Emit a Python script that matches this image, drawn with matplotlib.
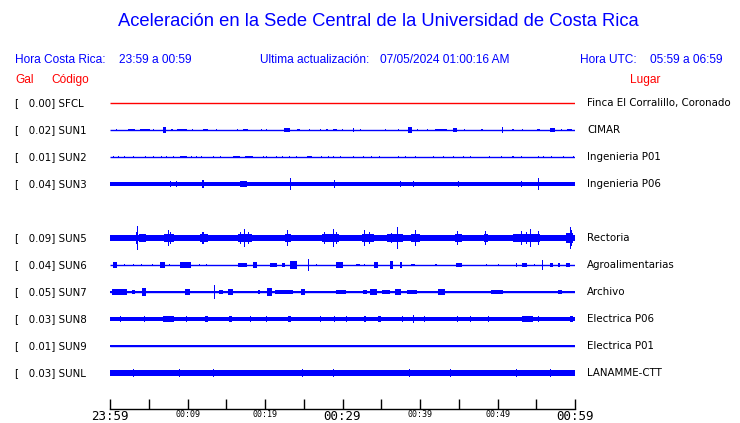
import matplotlib.pyplot as plt
from matplotlib import transforms

# stations, top to bottom (SUN4 has no trace, its slot stays empty)
codes = ['SFCL', 'SUN1', 'SUN2', 'SUN3', 'SUN5', 'SUN6', 'SUN7', 'SUN8', 'SUN9', 'SUNL']
places = ['Finca El Corralillo, Coronado', 'CIMAR', 'Ingenieria P01', 'Ingenieria P06',
          'Rectoria', 'Agroalimentarias', 'Archivo', 'Electrica P06', 'Electrica P01',
          'LANAMME-CTT']
peaks = [0.00, 0.02, 0.01, 0.04, 0.09, 0.04, 0.05, 0.03, 0.01, 0.03]
# background noise half-amplitude (Gal)
base_amp = [0.0, 0.003, 0.003, 0.013, 0.019, 0.003, 0.005, 0.014, 0.004, 0.019]

# time axis: minutes after 23:59
tick_min = [0, 5, 10, 15, 20, 25, 30, 35, 40, 45, 50, 55, 60]
tick_txt = ['23:59', '', '00:09', '', '00:19', '', '00:29', '', '00:39', '', '00:49', '', '00:59']

# bursts: (start min, end min, half amplitude Gal)
# start == end means a single spike
sun1_ev = [(0.9, 0.9, 0.011), (2.3, 3.2, 0.011), (3.9, 5.2, 0.011), (5.6, 5.6, 0.009),
           (6.9, 7.2, 0.020), (8.0, 8.0, 0.009), (8.6, 9.9, 0.011), (10.7, 10.7, 0.011),
           (12.0, 12.7, 0.011), (13.8, 13.8, 0.009), (16.4, 16.5, 0.011), (17.2, 17.8, 0.011),
           (19.6, 19.6, 0.007), (20.2, 20.2, 0.009), (22.4, 23.2, 0.013), (24.1, 24.5, 0.011),
           (25.8, 25.8, 0.011), (27.1, 27.1, 0.009), (28.0, 28.0, 0.009), (28.8, 29.3, 0.011),
           (29.9, 30.1, 0.011), (31.4, 31.4, 0.015), (32.3, 32.3, 0.009), (35.5, 35.5, 0.009),
           (37.2, 37.2, 0.011), (38.5, 39.0, 0.019), (39.7, 39.7, 0.009), (41.0, 41.0, 0.009),
           (41.9, 43.5, 0.011), (44.3, 44.8, 0.015), (45.8, 45.8, 0.009), (48.0, 48.0, 0.009),
           (50.6, 50.6, 0.022), (52.0, 52.0, 0.009), (53.2, 53.2, 0.009), (55.1, 55.5, 0.011),
           (56.8, 57.4, 0.013), (58.3, 58.3, 0.009), (59.0, 59.6, 0.011)]
sun2_ev = [(0.4, 0.4, 0.007), (1.1, 1.1, 0.007), (1.9, 1.9, 0.007), (3.0, 3.0, 0.007),
           (4.5, 4.7, 0.011), (5.6, 5.6, 0.007), (6.7, 6.7, 0.007), (7.3, 7.3, 0.007),
           (8.2, 8.2, 0.007), (9.0, 9.9, 0.007), (10.5, 10.5, 0.007), (11.2, 11.2, 0.007),
           (11.8, 11.8, 0.007), (13.3, 13.3, 0.007), (14.2, 14.2, 0.007), (15.9, 16.8, 0.007),
           (17.4, 18.5, 0.007), (19.8, 19.8, 0.007), (20.2, 20.2, 0.007), (21.5, 21.5, 0.007),
           (22.2, 22.2, 0.007), (23.2, 23.2, 0.011), (24.1, 24.1, 0.007), (25.4, 26.0, 0.007),
           (27.3, 27.3, 0.007), (28.2, 28.2, 0.007), (28.8, 28.8, 0.007), (29.7, 29.7, 0.007),
           (31.4, 31.4, 0.007), (32.7, 32.7, 0.007), (33.8, 33.8, 0.007), (34.8, 34.8, 0.007),
           (37.2, 37.2, 0.011), (38.1, 38.1, 0.007), (39.4, 39.4, 0.007), (41.7, 41.7, 0.011),
           (43.0, 43.0, 0.007), (44.3, 44.3, 0.007), (45.6, 45.6, 0.007), (46.5, 46.5, 0.007),
           (49.0, 49.0, 0.011), (50.5, 50.5, 0.007), (52.0, 52.0, 0.007), (53.1, 53.1, 0.007),
           (55.3, 55.3, 0.007), (55.9, 55.9, 0.007), (57.0, 57.0, 0.007), (58.5, 58.5, 0.007),
           (59.8, 59.8, 0.007)]
sun3_ev = [(7.8, 7.9, 0.022), (8.6, 8.6, 0.019), (12.0, 12.0, 0.033), (16.8, 17.7, 0.019),
           (19.7, 19.7, 0.015), (23.2, 23.3, 0.042), (29.0, 29.0, 0.030), (37.4, 37.5, 0.022),
           (39.1, 39.2, 0.019), (44.9, 45.0, 0.019), (53.1, 53.2, 0.019), (55.3, 55.3, 0.044)]
sun5_ev = [(3.3, 3.5, 0.045), (3.5, 3.6, 0.088), (3.7, 4.7, 0.030), (7.0, 8.2, 0.030),
           (7.5, 7.5, 0.056), (7.8, 7.8, 0.045), (11.6, 12.7, 0.030), (12.0, 12.0, 0.044),
           (15.1, 16.3, 0.024), (16.5, 18.3, 0.030), (16.9, 16.9, 0.045), (17.4, 17.4, 0.067),
           (17.9, 17.9, 0.045), (18.9, 19.6, 0.024), (20.0, 22.2, 0.024), (22.6, 23.4, 0.030),
           (22.9, 22.9, 0.059), (24.7, 26.0, 0.024), (27.3, 29.5, 0.026), (27.7, 27.7, 0.044),
           (28.8, 28.8, 0.067), (29.2, 29.2, 0.045), (32.5, 34.0, 0.030), (32.9, 32.9, 0.059),
           (33.5, 33.5, 0.045), (35.7, 37.8, 0.026), (36.3, 36.3, 0.040), (37.1, 37.1, 0.078),
           (38.9, 40.0, 0.030), (39.4, 39.4, 0.056), (40.6, 43.9, 0.022), (44.5, 45.4, 0.030),
           (44.9, 44.9, 0.052), (46.0, 47.7, 0.022), (48.2, 48.8, 0.030), (48.5, 48.5, 0.052),
           (49.5, 51.6, 0.022), (52.0, 55.5, 0.030), (53.1, 53.1, 0.052), (53.7, 53.7, 0.045),
           (54.2, 54.2, 0.070), (55.3, 55.3, 0.052), (55.9, 58.5, 0.022), (58.9, 59.8, 0.035),
           (59.4, 59.4, 0.081), (59.6, 59.6, 0.060)]
sun6_ev = [(0.4, 0.9, 0.022), (1.9, 1.9, 0.011), (3.0, 3.0, 0.011), (4.1, 4.1, 0.011),
           (5.4, 5.6, 0.011), (6.5, 7.1, 0.019), (7.7, 7.7, 0.011), (9.0, 10.5, 0.019),
           (11.6, 11.6, 0.011), (12.5, 12.5, 0.011), (16.5, 17.7, 0.015), (18.5, 19.0, 0.019),
           (20.6, 21.5, 0.015), (22.2, 22.6, 0.015), (23.2, 24.1, 0.026), (25.6, 25.6, 0.041),
           (26.7, 26.7, 0.011), (29.2, 30.1, 0.019), (31.8, 32.3, 0.011), (32.9, 32.9, 0.011),
           (34.0, 34.6, 0.019), (36.1, 36.5, 0.026), (37.4, 37.7, 0.022), (38.9, 39.4, 0.011),
           (41.9, 42.2, 0.011), (44.7, 45.4, 0.015), (48.6, 48.6, 0.011), (50.1, 50.1, 0.011),
           (52.5, 52.5, 0.015), (53.1, 53.8, 0.015), (54.8, 54.8, 0.011), (55.7, 55.9, 0.037),
           (56.8, 57.2, 0.015), (57.8, 58.1, 0.015), (58.9, 59.4, 0.015)]
sun7_ev = [(0.2, 2.2, 0.019), (2.8, 3.2, 0.015), (4.1, 4.7, 0.030), (5.6, 7.3, 0.011),
           (7.5, 9.2, 0.011), (9.7, 10.3, 0.019), (10.7, 11.6, 0.011), (13.4, 13.6, 0.052),
           (14.0, 14.6, 0.015), (15.2, 15.9, 0.022), (16.4, 18.5, 0.011), (19.1, 19.4, 0.015),
           (20.2, 20.9, 0.033), (21.3, 23.6, 0.015), (24.7, 25.2, 0.019), (25.8, 26.7, 0.011),
           (27.7, 27.7, 0.011), (29.2, 30.5, 0.015), (31.4, 32.0, 0.011), (32.7, 33.1, 0.015),
           (33.5, 34.4, 0.019), (35.1, 36.1, 0.015), (36.8, 37.6, 0.019), (38.3, 39.6, 0.015),
           (40.9, 41.3, 0.011), (42.3, 43.2, 0.019), (46.5, 46.5, 0.011), (48.6, 48.6, 0.011),
           (49.2, 50.7, 0.015), (53.1, 53.1, 0.011), (55.1, 55.3, 0.011), (57.8, 58.3, 0.015)]
sun8_ev = [(1.3, 1.3, 0.022), (4.5, 4.5, 0.022), (6.9, 8.2, 0.019), (9.9, 9.9, 0.022),
           (12.3, 12.7, 0.022), (15.3, 15.7, 0.022), (18.1, 18.1, 0.022), (20.2, 20.2, 0.022),
           (23.0, 23.4, 0.022), (27.1, 27.1, 0.022), (29.0, 29.0, 0.022), (30.5, 30.5, 0.022),
           (32.8, 33.0, 0.022), (34.6, 35.0, 0.022), (37.7, 37.7, 0.022), (39.1, 39.1, 0.026),
           (40.6, 40.6, 0.022), (44.9, 44.9, 0.022), (46.5, 46.5, 0.022), (48.8, 48.8, 0.022),
           (53.1, 54.6, 0.019), (55.3, 55.3, 0.022), (59.4, 59.8, 0.019)]
sun9_ev = [(0.0, 1.1, 0.010), (1.5, 2.2, 0.010), (2.4, 3.9, 0.010), (4.3, 6.0, 0.010),
           (6.5, 8.6, 0.010), (9.0, 9.9, 0.010), (10.1, 12.5, 0.010), (13.1, 14.2, 0.010),
           (14.6, 15.9, 0.010), (16.3, 18.5, 0.010), (18.9, 20.2, 0.010), (20.4, 22.4, 0.010),
           (22.8, 25.8, 0.010), (26.2, 27.1, 0.010), (27.7, 28.8, 0.010), (29.2, 30.8, 0.010),
           (32.0, 33.5, 0.010), (33.5, 34.8, 0.010), (36.1, 37.8, 0.010), (38.7, 39.6, 0.010),
           (40.6, 41.7, 0.010), (42.6, 43.9, 0.010), (44.5, 46.0, 0.010), (46.9, 48.2, 0.010),
           (48.6, 49.9, 0.010), (50.7, 52.0, 0.010), (52.5, 53.8, 0.010), (54.6, 55.9, 0.010),
           (57.0, 57.6, 0.010), (58.1, 58.7, 0.010), (59.4, 59.8, 0.010)]
sunl_ev = [(3.0, 3.0, 0.026), (9.0, 9.0, 0.026), (13.3, 13.3, 0.026), (24.9, 24.9, 0.030),
           (28.8, 28.8, 0.026), (38.7, 38.7, 0.026), (43.9, 43.9, 0.026), (52.5, 52.5, 0.026),
           (56.8, 56.8, 0.026)]
events = [[], sun1_ev, sun2_ev, sun3_ev, sun5_ev, sun6_ev, sun7_ev, sun8_ev, sun9_ev, sunl_ev]

BLUE = '#0000ff'
RED = '#ff0000'
gain = 5.0          # rows per Gal (one row = 27 px)
slot = [0, 1, 2, 3, 5, 6, 7, 8, 9, 10]

fig = plt.figure(figsize=(7.4, 4.23), dpi=100)
ax = fig.add_axes([110 / 740, 14 / 423, 465 / 740, 319 / 423])
ax.set_xlim(0, 60)
ax.set_ylim(11.333, -0.481)

for i, code in enumerate(codes):
    y = slot[i]
    col = RED if code == 'SFCL' else BLUE
    ax.hlines(y, 0, 60, color=col, lw=1.0)
    if base_amp[i] > 0:
        ax.fill_between([0, 60], y - base_amp[i] * gain, y + base_amp[i] * gain,
                        color=col, lw=0)
    for t0, t1, a in events[i]:
        if t1 - t0 < 0.13:
            t0, t1 = (t0 + t1) / 2 - 0.065, (t0 + t1) / 2 + 0.065
        ax.bar(t0, 2 * a * gain, bottom=y - a * gain, width=t1 - t0, align='edge',
               color=col, linewidth=0)

# side labels
trans = transforms.blended_transform_factory(fig.transFigure, ax.transData)
for i, code in enumerate(codes):
    ax.text(15 / 740, slot[i], f'[   {peaks[i]:.2f}] {code}', transform=trans,
            ha='left', va='center', fontsize=7.4, family='DejaVu Sans', color='black')
    ax.text(587 / 740, slot[i], places[i], transform=trans,
            ha='left', va='center', fontsize=7.4, family='DejaVu Sans', color='black')

# axis styling
for s in ['top', 'left', 'right']:
    ax.spines[s].set_visible(False)
ax.spines['bottom'].set_linewidth(1.0)
ax.set_yticks([])
ax.set_xticks(tick_min)
ax.set_xticklabels(tick_txt, family='DejaVu Sans Mono')
ax.tick_params(axis='x', direction='in', length=7, width=1, pad=1)
for lab in ax.get_xticklabels():
    lab.set_fontsize(9 if lab.get_text() in ('23:59', '00:29', '00:59') else 6)

# header
hf = 'Liberation Sans'
fs = 8.6
fig.text(378 / 740, 1 - 22 / 423, 'Aceleración en la Sede Central de la Universidad de Costa Rica',
         ha='center', va='center', fontsize=13.2, color=BLUE, family=hf)
fig.text(15 / 740, 1 - 60 / 423, 'Hora Costa Rica:', ha='left', va='center', fontsize=fs, color=BLUE, family=hf)
fig.text(119 / 740, 1 - 60 / 423, '23:59 a 00:59', ha='left', va='center', fontsize=fs, color=BLUE, family=hf)
fig.text(260 / 740, 1 - 60 / 423, 'Ultima actualización:', ha='left', va='center', fontsize=fs, color=BLUE, family=hf)
fig.text(380 / 740, 1 - 60 / 423, '07/05/2024 01:00:16 AM', ha='left', va='center', fontsize=fs, color=BLUE, family=hf)
fig.text(580 / 740, 1 - 60 / 423, 'Hora UTC:', ha='left', va='center', fontsize=fs, color=BLUE, family=hf)
fig.text(650 / 740, 1 - 60 / 423, '05:59 a 06:59', ha='left', va='center', fontsize=fs, color=BLUE, family=hf)
fig.text(15 / 740, 1 - 80 / 423, 'Gal', ha='left', va='center', fontsize=fs, color=RED, family=hf)
fig.text(51 / 740, 1 - 80 / 423, 'Código', ha='left', va='center', fontsize=fs, color=RED, family=hf)
fig.text(630 / 740, 1 - 80 / 423, 'Lugar', ha='left', va='center', fontsize=fs, color=RED, family=hf)

fig.savefig('out.png', dpi=100)
